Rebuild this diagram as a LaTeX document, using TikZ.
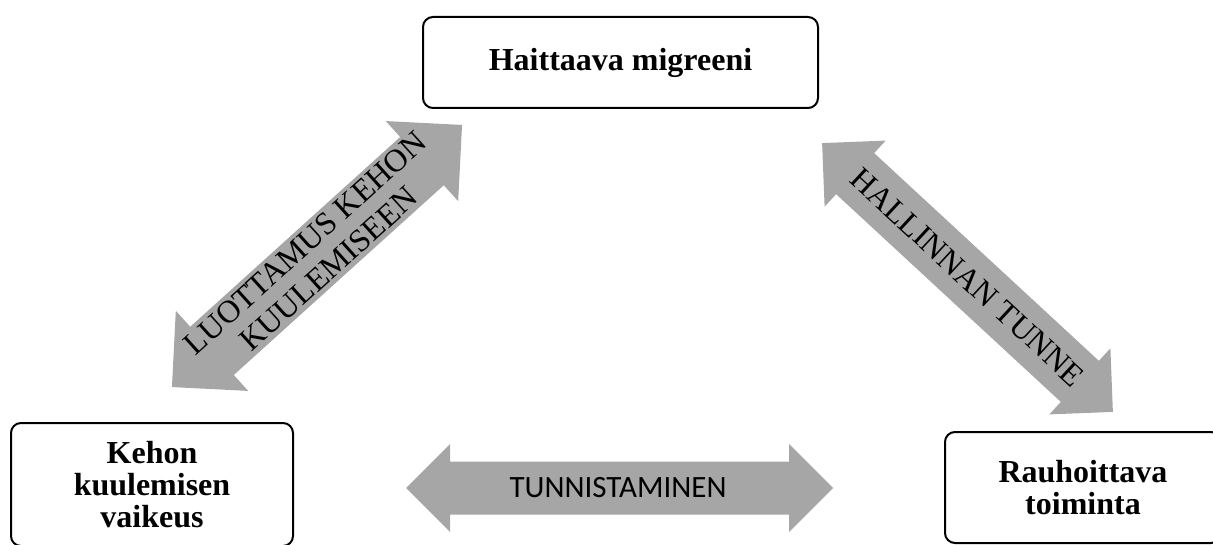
\documentclass[tikz,border=0pt]{standalone}
\usepackage{fontspec}
\setmainfont{Liberation Serif}
\newfontfamily\labelserif{Liberation Serif}
\newfontfamily\labelsans{Carlito}
\definecolor{arrowgray}{HTML}{A6A6A6}
\tikzset{
  box/.style={draw=black, line width=2pt, rounded corners=10pt, fill=white,
    align=center, inner sep=0pt, font=\labelserif\bfseries\fontsize{32}{32}\selectfont},
  arrowtext/.style={align=center, inner sep=0pt, font=\labelserif\fontsize{32}{35}\selectfont},
  % double-headed block arrow: length / shaft half-width / head half-width / head length
  pics/dblarrow/.style args={#1/#2/#3/#4}{code={
    \fill[arrowgray] (-#1/2,0) -- (-#1/2+#4,#3) -- (-#1/2+#4,#2) -- (#1/2-#4,#2)
      -- (#1/2-#4,#3) -- (#1/2,0) -- (#1/2-#4,-#3) -- (#1/2-#4,-#2)
      -- (-#1/2+#4,-#2) -- (-#1/2+#4,-#3) -- cycle;
  }}
}
\begin{document}
\begin{tikzpicture}[x=1pt,y=-1pt]
\useasboundingbox (0,0) rectangle (1213,545);
\clip (0,0) rectangle (1213,545);

% boxes
\node[box, minimum width=395pt, minimum height=91pt] (migr) at (620.5,62.5) {Haittaava migreeni};
\node[box, minimum width=282pt, minimum height=123pt] (kehon) at (152,484.5) {Kehon\\kuulemisen\\vaikeus};
\node[box, minimum width=276pt, minimum height=111pt] (rauh) at (1083,487.5) {Rauhoittava\\toiminta};

% block arrows
\pic[rotate=42.1] (luot) at (317,256) {dblarrow={391/32.5/54/54}};
\pic[rotate=-42.75] (hall) at (967.5,277.5) {dblarrow={396/28/45/45}};
\pic (tunn) at (619.5,488) {dblarrow={427/26.5/44/44}};

% arrow labels
\node[arrowtext, rotate=42.1] (luottxt) at (317,256) {LUOTTAMUS KEHON\\KUULEMISEEN};
\node[arrowtext, rotate=-42.75] (halltxt) at (967.5,277.5) {HALLINNAN TUNNE};
\node[inner sep=0pt, font=\labelsans\fontsize{31}{31}\selectfont] (tunntxt) at (618,488) {TUNNISTAMINEN};
\end{tikzpicture}
\end{document}
